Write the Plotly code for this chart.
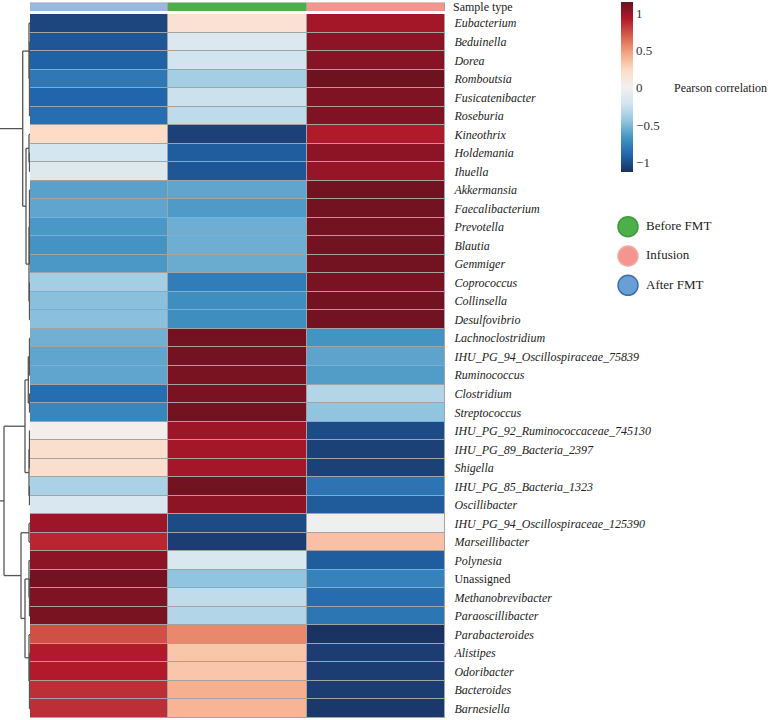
import plotly.graph_objects as go

# ---------------- data ----------------
genera = ["Eubacterium", "Beduinella", "Dorea", "Romboutsia", "Fusicatenibacter", "Roseburia",
          "Kineothrix", "Holdemania", "Ihuella", "Akkermansia", "Faecalibacterium", "Prevotella",
          "Blautia", "Gemmiger", "Coprococcus", "Collinsella", "Desulfovibrio", "Lachnoclostridium",
          "IHU_PG_94_Oscillospiraceae_75839", "Ruminococcus", "Clostridium", "Streptococcus",
          "IHU_PG_92_Ruminococcaceae_745130", "IHU_PG_89_Bacteria_2397", "Shigella",
          "IHU_PG_85_Bacteria_1323", "Oscillibacter", "IHU_PG_94_Oscillospiraceae_125390",
          "Marseillibacter", "Polynesia", "Unassigned", "Methanobrevibacter", "Paraoscillibacter",
          "Parabacteroides", "Alistipes", "Odoribacter", "Bacteroides", "Barnesiella"]

sample_types = ["After FMT", "Before FMT", "Infusion"]
annotation_title = "Sample type"

after_fmt = [-1.04, -0.97, -0.92, -0.81, -0.90, -0.86, 0.24, -0.20, -0.13, -0.61, -0.59, -0.65,
             -0.67, -0.65, -0.38, -0.47, -0.47, -0.54, -0.59, -0.59, -0.86, -0.74, 0.03, 0.20,
             0.20, -0.36, -0.17, 0.99, 0.88, 1.04, 1.12, 1.08, 1.10, 0.74, 0.92, 0.92, 0.85, 0.85]
before_fmt = [0.17, -0.15, -0.22, -0.38, -0.24, -0.29, -1.06, -0.94, -0.97, -0.59, -0.64, -0.55,
              -0.55, -0.56, -0.79, -0.70, -0.70, 1.12, 1.12, 1.10, 1.10, 1.12, 0.99, 0.97,
              0.97, 1.12, 1.04, -1.02, -1.08, -0.17, -0.45, -0.28, -0.33, 0.56, 0.33, 0.33, 0.42, 0.40]
infusion = [0.97, 1.04, 1.06, 1.13, 1.08, 1.08, 0.92, 1.04, 1.01, 1.12, 1.12, 1.12,
            1.12, 1.12, 1.10, 1.12, 1.12, -0.67, -0.60, -0.63, -0.33, -0.45, -1.02, -1.06,
            -1.06, -0.83, -0.95, -0.02, 0.35, -0.94, -0.76, -0.87, -0.82, -1.12, -1.08, -1.08, -1.08, -1.10]

sample_colors = ["#9ab9e0", "#4caf4a", "#f4968f"]

colorbar_ticks = [1, 0.5, 0, -0.5, -1]
colorbar_ticktext = ["1", "0.5", "0", "\u22120.5", "\u22121"]

legend_labels = ["Before FMT", "Infusion", "After FMT"]
legend_fill = ["#4caf4a", "#f4968f", "#6a9fd6"]
legend_line = ["#3f9a3f", "#f4aaa4", "#3d6fae"]

# row dendrogram: [merge height, children...]; leaves are row indices
top_tree = [7.3, [1.0, 0, [0.5, 1, 2, 3, 4, 5]],
            [4.0, [1.0, 6, [0.5, 7, 8]], [1.0, [0.5, 9, 10, 11, 12, 13], [0.5, 14, 15, 16]]]]
bottom_tree = [26.0,
               [5.0, [1.7, [0.5, 17, 18, 19], [0.5, 20, 21]], [1.0, [0.5, 22, 23, 24], [0.5, 25, 26]]],
               [9.0, [1.0, 27, 28], [5.0, [1.0, 29, [0.5, 30, 31, 32]], [1.0, 33, [0.5, 34, 35, 36, 37]]]]]
row_tree = [45.0, top_tree, bottom_tree]

# ---------------- build ----------------
FONT = "Liberation Serif"
W, H = 776, 720
n = len(genera)
z = [[after_fmt[i], before_fmt[i], infusion[i]] for i in range(n)]

colorscale = [[0.0, "#1a3160"], [0.1, "#2166ac"], [0.2, "#4393c3"], [0.3, "#92c5de"],
              [0.4, "#d1e5f0"], [0.5, "#f2f0ee"], [0.6, "#fddbc7"], [0.7, "#f4a582"],
              [0.8, "#d6604d"], [0.9, "#b2182b"], [1.0, "#69111f"]]

ticktext = [("<i>%s</i>" % g) if g != "Unassigned" else g for g in genera]

hm_x0, hm_x1 = 30 / W, 445 / W
hm_y0, hm_y1 = (H - 718) / H, (H - 14) / H

fig = go.Figure()

fig.add_trace(go.Heatmap(
    z=z, x=[0, 1, 2], y=list(range(n)), colorscale=colorscale, zmin=-1.13, zmax=1.15,
    xgap=1, ygap=1, hoverinfo="skip",
    colorbar=dict(
        thickness=12, lenmode="pixels", len=170, x=621 / W, xanchor="left", xpad=0,
        y=1 - 2 / H, yanchor="top", ypad=0, outlinewidth=0,
        tickvals=colorbar_ticks, ticktext=colorbar_ticktext, ticks="",
        tickfont=dict(family=FONT, size=13, color="#333"),
    ),
))

fig.add_trace(go.Heatmap(
    z=[[0, 1, 2]], x=[0, 1, 2], y=[0], xaxis="x2", yaxis="y2",
    colorscale=[[0, sample_colors[0]], [0.333, sample_colors[0]], [0.333, sample_colors[1]],
                [0.667, sample_colors[1]], [0.667, sample_colors[2]], [1, sample_colors[2]]],
    zmin=0, zmax=2, showscale=False, xgap=1, hoverinfo="skip",
))

# dendrogram segments
xs, ys = [], []


def walk(node):
    if isinstance(node, int):
        return float(node), 0.0
    h = node[0]
    kids = [walk(c) for c in node[1:]]
    for (cy, ch) in kids:
        xs.extend([ch, h, None])
        ys.extend([cy, cy, None])
    lo = min(k[0] for k in kids)
    hi = max(k[0] for k in kids)
    xs.extend([h, h, None])
    ys.extend([lo, hi, None])
    return (lo + hi) / 2, h


walk(row_tree)
fig.add_trace(go.Scatter(x=xs, y=ys, mode="lines", xaxis="x3", yaxis="y3",
                         line=dict(color="#555555", width=1.3), hoverinfo="skip", showlegend=False))

# legend-like key
fig.add_trace(go.Scatter(x=[13] * 3, y=[0, 1, 2], mode="markers", xaxis="x4", yaxis="y4",
                         marker=dict(size=20, color=legend_fill, line=dict(color=legend_line, width=1.5)),
                         hoverinfo="skip", showlegend=False))
fig.add_trace(go.Scatter(x=[31] * 3, y=[0, 1, 2], mode="text", xaxis="x4", yaxis="y4",
                         text=legend_labels, textposition="middle right",
                         textfont=dict(family=FONT, size=13, color="#222"),
                         hoverinfo="skip", showlegend=False))

fig.update_layout(
    width=W, height=H, margin=dict(l=0, r=0, t=0, b=0, autoexpand=False),
    paper_bgcolor="white", plot_bgcolor="#a3a3a3", showlegend=False,
    font=dict(family=FONT, size=12, color="#222"),
    xaxis=dict(domain=[hm_x0, hm_x1], range=[-0.5, 2.5], showticklabels=False, showgrid=False,
               zeroline=False, ticks="", automargin=False),
    yaxis=dict(domain=[hm_y0, hm_y1], range=[n - 0.5, -0.5], side="right", tickvals=list(range(n)),
               ticktext=ticktext, ticks="outside", ticklen=6, tickcolor="rgba(0,0,0,0)",
               showgrid=False, zeroline=False, automargin=False,
               tickfont=dict(family=FONT, size=12, color="#222")),
    xaxis2=dict(domain=[hm_x0, hm_x1], range=[-0.5, 2.5], anchor="y2", showticklabels=False,
                showgrid=False, zeroline=False, automargin=False),
    yaxis2=dict(domain=[(H - 11) / H, (H - 2.5) / H], range=[-0.5, 0.5], anchor="x2",
                showticklabels=False, showgrid=False, zeroline=False, automargin=False),
    xaxis3=dict(domain=[0, hm_x0], range=[30, 0], anchor="y3", visible=False, automargin=False),
    yaxis3=dict(domain=[hm_y0, hm_y1], range=[n - 0.5, -0.5], anchor="x3", visible=False,
                automargin=False),
    xaxis4=dict(domain=[615 / W, 1], range=[0, 161], anchor="y4", visible=False, automargin=False),
    yaxis4=dict(domain=[(H - 300) / H, (H - 212) / H], range=[2.5, -0.5], anchor="x4", visible=False,
                automargin=False),
    annotations=[
        dict(text="Pearson correlation", x=672 / W, y=1 - 88 / H, xref="paper", yref="paper",
             xanchor="left", yanchor="middle", showarrow=False,
             font=dict(family=FONT, size=12, color="#222")),
        dict(text=annotation_title, x=451 / W, y=0, xref="paper", yref="y2",
             xanchor="left", yanchor="middle", showarrow=False,
             font=dict(family=FONT, size=12, color="#222")),
    ],
)

# dendrogram/legend subplots should have white background: cover with shapes behind
fig.add_shape(type="rect", xref="paper", yref="paper", x0=0, x1=hm_x0, y0=hm_y0, y1=hm_y1,
              fillcolor="white", line_width=0, layer="below")
fig.add_shape(type="rect", xref="paper", yref="paper", x0=615 / W, x1=1,
              y0=(H - 300) / H, y1=(H - 212) / H, fillcolor="white", line_width=0, layer="below")

fig.write_html("out.html", config={"displayModeBar": False},
               post_script="document.body.style.margin='0';document.body.style.padding='0';")
